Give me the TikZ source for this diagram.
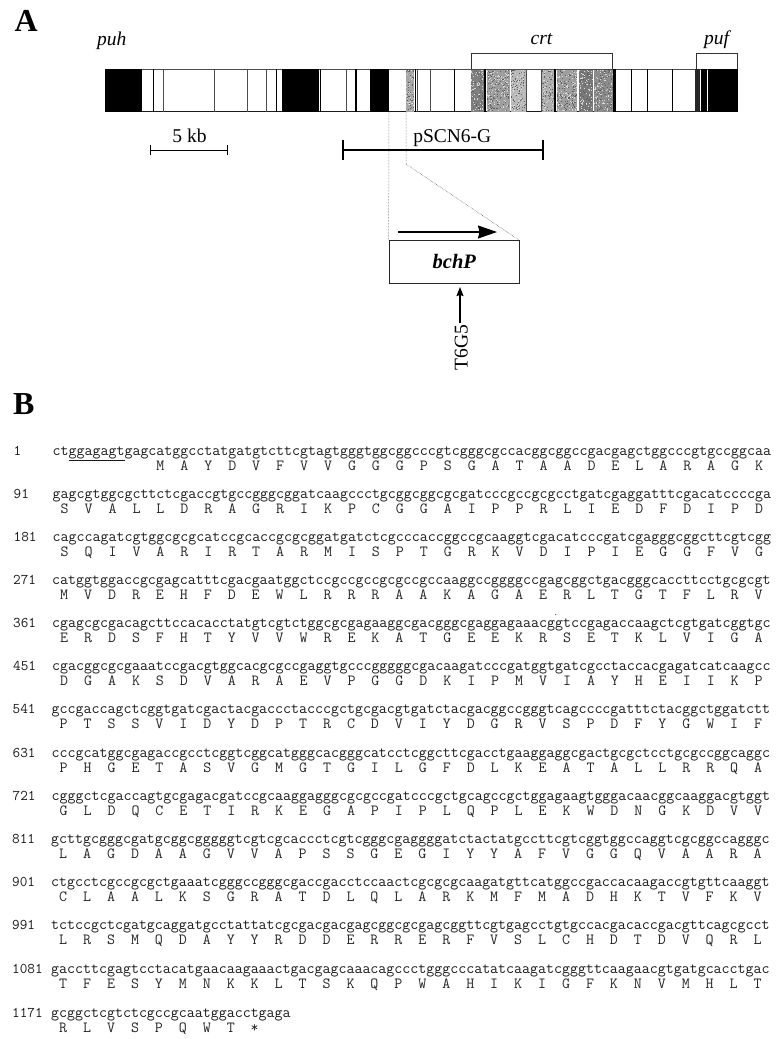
\documentclass[tikz,border=0pt]{standalone}
\usepackage{fontspec}
\setmainfont{Liberation Serif}
\usetikzlibrary{arrows.meta}
\newcommand{\seqfont}{\fontsize{15.5}{16}\ttfamily\selectfont}
\newcommand{\numfont}{\fontsize{14.8}{16}\ttfamily\selectfont}
\tikzset{
  lab/.style={inner sep=0pt,anchor=base,font=\fontsize{19.5}{22}\selectfont},
  ilab/.style={lab,font=\fontsize{19.5}{22}\itshape\selectfont},
  panel/.style={inner sep=0pt,anchor=base west,font=\fontsize{32}{33}\bfseries\selectfont},
  nt/.style={inner sep=0pt,anchor=base west,font=\seqfont,text=black!90},
  aacid/.style={inner sep=0pt,anchor=base west,font=\seqfont,text=black!85},
  num/.style={inner sep=0pt,anchor=base west,font=\numfont,text=black!90},
  blk/.style={fill=black,draw=none},
  brk/.style={draw=black!80,line width=0.6pt},
  guide/.style={draw=black!70,line width=0.5pt,densely dotted},
}
\pgfmathsetseed{4242}
\newcommand{\stip}[3]{% x1, x2, gray
  \fill[black!#3] (#1,69.5) rectangle (#2,111.5);
  \pgfmathtruncatemacro{\ndots}{(#2-#1)*42*0.12}
  \foreach \i in {1,...,\ndots}{
    \pgfmathsetmacro{\px}{#1+rnd*(#2-#1-1)}
    \pgfmathsetmacro{\py}{69.5+rnd*41}
    \fill[black!62] (\px,\py) rectangle +(1,1);
    \pgfmathsetmacro{\qx}{#1+rnd*(#2-#1-1)}
    \pgfmathsetmacro{\qy}{69.5+rnd*41}
    \fill[black!15] (\qx,\qy) rectangle +(1,1);
  }}
\newcommand{\seqrow}[6]{% y, x, name, number, nt, aa
  \node[num] (n#3) at (#2-39,#1) {#4};
  \node[nt] (s#3) at (#2,#1) {#5};
  \node[aacid] (a#3) at (#2,#1+15) {#6};}
\begin{document}
\begin{tikzpicture}[x=1pt,y=-1pt]
\useasboundingbox (0,0) rectangle (777,1039);
\node[panel] (pA) at (14.5,31.7) {A};
\node[panel] (pB) at (13,414.3) {B};
% gene band
\fill[white] (105,69.5) rectangle (738,111.5);
\draw[black!70,line width=0.8pt] (105,69.5) -- (738,69.5);
\draw[black!90,line width=0.8pt] (105,111.8) -- (738,111.8);
\fill[blk] (105,69) rectangle (142.3,112);
\fill[blk] (282.3,69) rectangle (319,112);
\fill[blk] (370,69) rectangle (389.3,112);
\foreach \x/\w in {153.3/1.6,276.7/1.3,320.4/1.3,356/1.6,415.2/1,484.8/2.2,555.2/2.2,614.5/2.2,631/1,647.7/1,672/0.8,454.7/1}{
  \draw[black,line width=\w pt] (\x,69) -- (\x,112);}
\foreach \x in {163.3,214.3,247.3,266.7,346.7,417.7,430,526,541}{
  \draw[black!70,line width=0.8pt] (\x,69) -- (\x,112);}
\stip{406}{414.3}{35}
\stip{470.7}{484}{50}
\stip{486.7}{509.5}{38}
\stip{510.7}{525.7}{28}
\stip{541.7}{554}{32}
\stip{556.7}{577.3}{38}
\stip{579}{592.7}{52}
\stip{594}{612.7}{45}
\fill[black!85] (695.3,69) rectangle (700,112);
\fill[blk] (700.5,69) rectangle (706.5,112);
\fill[blk] (708.3,69) rectangle (738,112);
% brackets
\draw[brk] (471.3,69) -- (471.3,53.3) -- (612.7,53.3) -- (612.7,69);
\draw[brk] (696,69) -- (696,53.3) -- (737,53.3) -- (737,69);
\node[ilab] (puh) at (111.7,45) {puh};
\node[ilab] (crt) at (541.5,44) {crt};
\node[ilab] (puf) at (716.5,44) {puf};
% scale
\node[lab] (kb) at (189.5,142) {5 kb};
\coordinate (sl) at (150.7,150);\coordinate (sr) at (227.3,150);
\draw[black,line width=1pt] (sl) -- (sr);
\draw[black,line width=1pt] ([yshift=-5pt]sl) -- ([yshift=5pt]sl);
\draw[black,line width=1pt] ([yshift=-5pt]sr) -- ([yshift=5pt]sr);
% clone
\node[lab] (pscn) at (452.3,142.5) {pSCN6-G};
\coordinate (cl) at (342.7,150);\coordinate (cr) at (543.3,150);
\draw[black,line width=2.3pt] (cl) -- (cr);
\draw[black,line width=2pt] ([yshift=-10pt]cl) -- ([yshift=10pt]cl);
\draw[black,line width=2pt] ([yshift=-10pt]cr) -- ([yshift=10pt]cr);
% bchP
\node[draw=black!85,line width=0.8pt,minimum width=130pt,minimum height=42.6pt,inner sep=0pt] (box) at (454,262) {};
\node[lab,font=\fontsize{20.5}{22}\bfseries\itshape\selectfont] (bch) at (454.3,268) {bchP};
\coordinate (g1) at (389,112);\coordinate (g2) at (406,112);\coordinate (g3) at (406,164);
\draw[guide] (g1) -- (box.north west);
\draw[guide] (g2) -- (g3) -- (box.north east);
\coordinate (a1) at (398.3,232);\coordinate (a2) at (497,232);
\draw[black,line width=1.2pt,-{Stealth[length=19pt,width=13pt,inset=1.5pt]}] (a1) -- (a2);
\node[lab,rotate=90,anchor=base] (t6) at (467.7,347.5) {T6G5};
\coordinate (tt) at (460,323);
\draw[black,line width=1.3pt,-{Stealth[length=9pt,width=7pt,inset=1pt]}] (tt) -- (460,287);
% sequence
\seqrow{455}{52.5}{r1}{1}{ct\underline{ggagagt}gagcatggcctatgatgtcttcgtagtgggtggcggcccgtcgggcgccacggcggccgacgagctggcccgtgccggcaa}{~~~~~~~~~~~~~M~~A~~Y~~D~~V~~F~~V~~V~~G~~G~~G~~P~~S~~G~~A~~T~~A~~A~~D~~E~~L~~A~~R~~A~~G~~K}
\seqrow{498}{52.5}{r2}{91}{gagcgtggcgcttctcgaccgtgccgggcggatcaagccctgcggcggcgcgatcccgccgcgcctgatcgaggatttcgacatccccga}{~S~~V~~A~~L~~L~~D~~R~~A~~G~~R~~I~~K~~P~~C~~G~~G~~A~~I~~P~~P~~R~~L~~I~~E~~D~~F~~D~~I~~P~~D}
\seqrow{541}{52.5}{r3}{181}{cagccagatcgtggcgcgcatccgcaccgcgcggatgatctcgcccaccggccgcaaggtcgacatcccgatcgagggcggcttcgtcgg}{~S~~Q~~I~~V~~A~~R~~I~~R~~T~~A~~R~~M~~I~~S~~P~~T~~G~~R~~K~~V~~D~~I~~P~~I~~E~~G~~G~~F~~V~~G}
\seqrow{584}{52}{r4}{271}{catggtggaccgcgagcatttcgacgaatggctccgccgccgcgccgccaaggccggggccgagcggctgacgggcaccttcctgcgcgt}{~M~~V~~D~~R~~E~~H~~F~~D~~E~~W~~L~~R~~R~~R~~A~~A~~K~~A~~G~~A~~E~~R~~L~~T~~G~~T~~F~~L~~R~~V}
\seqrow{627}{52}{r5}{361}{cgagcgcgacagcttccacacctatgtcgtctggcgcgagaaggcgacgggcgaggagaaacggtccgagaccaagctcgtgatcggtgc}{~E~~R~~D~~S~~F~~H~~T~~Y~~V~~V~~W~~R~~E~~K~~A~~T~~G~~E~~E~~K~~R~~S~~E~~T~~K~~L~~V~~I~~G~~A}
\seqrow{670}{52}{r6}{451}{cgacggcgcgaaatccgacgtggcacgcgccgaggtgcccgggggcgacaagatcccgatggtgatcgcctaccacgagatcatcaagcc}{~D~~G~~A~~K~~S~~D~~V~~A~~R~~A~~E~~V~~P~~G~~G~~D~~K~~I~~P~~M~~V~~I~~A~~Y~~H~~E~~I~~I~~K~~P}
\seqrow{713}{51.5}{r7}{541}{gccgaccagctcggtgatcgactacgaccctacccgctgcgacgtgatctacgacggccgggtcagccccgatttctacggctggatctt}{~P~~T~~S~~S~~V~~I~~D~~Y~~D~~P~~T~~R~~C~~D~~V~~I~~Y~~D~~G~~R~~V~~S~~P~~D~~F~~Y~~G~~W~~I~~F}
\seqrow{757}{51.5}{r8}{631}{cccgcatggcgagaccgcctcggtcggcatgggcacgggcatcctcggcttcgacctgaaggaggcgactgcgctcctgcgccggcaggc}{~P~~H~~G~~E~~T~~A~~S~~V~~G~~M~~G~~T~~G~~I~~L~~G~~F~~D~~L~~K~~E~~A~~T~~A~~L~~L~~R~~R~~Q~~A}
\seqrow{800}{51.5}{r9}{721}{cgggctcgaccagtgcgagacgatccgcaaggagggcgcgccgatcccgctgcagccgctggagaagtgggacaacggcaaggacgtggt}{~G~~L~~D~~Q~~C~~E~~T~~I~~R~~K~~E~~G~~A~~P~~I~~P~~L~~Q~~P~~L~~E~~K~~W~~D~~N~~G~~K~~D~~V~~V}
\seqrow{843}{51}{r10}{811}{gcttgcgggcgatgcggcgggggtcgtcgcaccctcgtcgggcgaggggatctactatgccttcgtcggtggccaggtcgcggccagggc}{~L~~A~~G~~D~~A~~A~~G~~V~~V~~A~~P~~S~~S~~G~~E~~G~~I~~Y~~Y~~A~~F~~V~~G~~G~~Q~~V~~A~~A~~R~~A}
\seqrow{886}{51}{r11}{901}{ctgcctcgccgcgctgaaatcgggccgggcgaccgacctccaactcgcgcgcaagatgttcatggccgaccacaagaccgtgttcaaggt}{~C~~L~~A~~A~~L~~K~~S~~G~~R~~A~~T~~D~~L~~Q~~L~~A~~R~~K~~M~~F~~M~~A~~D~~H~~K~~T~~V~~F~~K~~V}
\seqrow{929}{51}{r12}{991}{tctccgctcgatgcaggatgcctattatcgcgacgacgagcggcgcgagcggttcgtgagcctgtgccacgacaccgacgttcagcgcct}{~L~~R~~S~~M~~Q~~D~~A~~Y~~Y~~R~~D~~D~~E~~R~~R~~E~~R~~F~~V~~S~~L~~C~~H~~D~~T~~D~~V~~Q~~R~~L}
\seqrow{973}{51}{r13}{1081}{gaccttcgagtcctacatgaacaagaaactgacgagcaaacagccctgggcccatatcaagatcgggttcaagaacgtgatgcacctgac}{~T~~F~~E~~S~~Y~~M~~N~~K~~K~~L~~T~~S~~K~~Q~~P~~W~~A~~H~~I~~K~~I~~G~~F~~K~~N~~V~~M~~H~~L~~T}
\seqrow{1017}{51}{r14}{1171}{gcggctcgtctcgccgcaatggacctgaga}{~R~~L~~V~~S~~P~~Q~~W~~T~~*}
\fill[black!70] (555.7,614.5) circle (0.6pt);
\end{tikzpicture}
\end{document}
